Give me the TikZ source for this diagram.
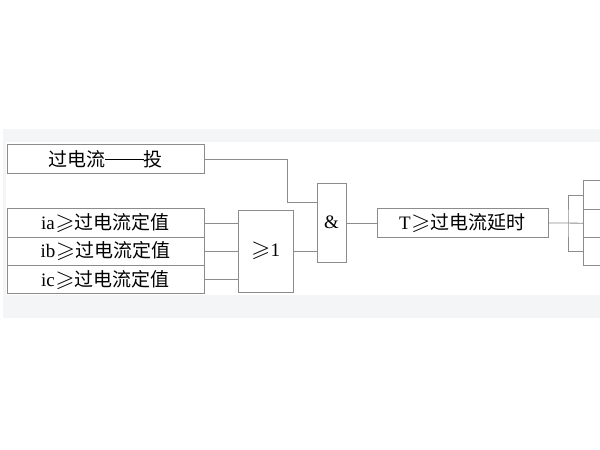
\documentclass[tikz,border=0pt]{standalone}
\usepackage{amssymb}
\usepackage{graphicx}
\usepackage{fontspec}
\setmainfont{Liberation Serif}
\newfontfamily\cjk{Noto Sans CJK SC}
\usetikzlibrary{positioning}
\definecolor{linegray}{RGB}{140,140,140}
\definecolor{bandgray}{RGB}{244,245,247}
\newcommand{\zh}[1]{{\cjk #1}}
\newcommand{\GE}{\makebox[1.05em]{\scalebox{1.3}[1.2]{$\geqslant$}}}
\newcommand{\longdash}{\rule[0.33em]{2.05em}{0.8pt}}

\begin{document}
\begin{tikzpicture}[x=1pt,y=-1pt,
  box/.style={draw=linegray,line width=0.9pt,inner sep=0pt,outer sep=0pt,
    minimum height=28.3pt,font=\fontsize{19}{21}\selectfont,align=center},
  wire/.style={draw=linegray,line width=0.9pt}]
  \useasboundingbox (0,0) rectangle (600,450);
  \clip (0,0) rectangle (600,450);
  %% background band
  \fill[bandgray] (3,129) rectangle (600,318);
  \fill[white] (6,142) rectangle (600,295);
  %% inputs
  \node[box,minimum width=197pt] (tou) at (105.5,159) {\zh{过电流}\longdash\zh{投}};
  \node[box,minimum width=197pt] (ia) at (105.5,223) {ia\GE\zh{过电流定值}};
  \node[box,minimum width=197pt,below=0pt of ia] (ib) {ib\GE\zh{过电流定值}};
  \node[box,minimum width=197pt,below=0pt of ib] (ic) {ic\GE\zh{过电流定值}};
  %% gates
  \node[box,minimum width=55pt,minimum height=82pt] (orgate) at (265.5,251) {\GE1};
  \node[box,minimum width=29pt,minimum height=79pt] (andgate) at (331.5,222.5) {\&};
  \node[box,minimum width=171pt] (delay) at (462.5,223) {T\GE\zh{过电流延时}};
  %% outputs
  \node[box,minimum width=77pt] (out1) at (621.5,195) {};
  \node[box,minimum width=77pt,below=0pt of out1] (out2) {};
  \node[box,minimum width=77pt,below=0pt of out2] (out3) {};
  \coordinate[right=20pt of delay.east] (split);
  %% wires
  \draw[wire] (ia.east) -- (ia.east -| orgate.west);
  \draw[wire] (ib.east) -- (ib.east -| orgate.west);
  \draw[wire] (ic.east) -- (ic.east -| orgate.west);
  \draw[wire] (tou.east) -- ++(83,0) |- ([yshift=20.5pt]andgate.west);
  \draw[wire] (orgate.east) -- (orgate.east -| andgate.west);
  \draw[wire] (delay.west -| andgate.east) -- (delay.west);
  \draw[wire] (delay.east) -- (split) -- (out2.west);
  \draw[wire] (out1.west) -| (split) |- (out3.west);
\end{tikzpicture}
\end{document}
